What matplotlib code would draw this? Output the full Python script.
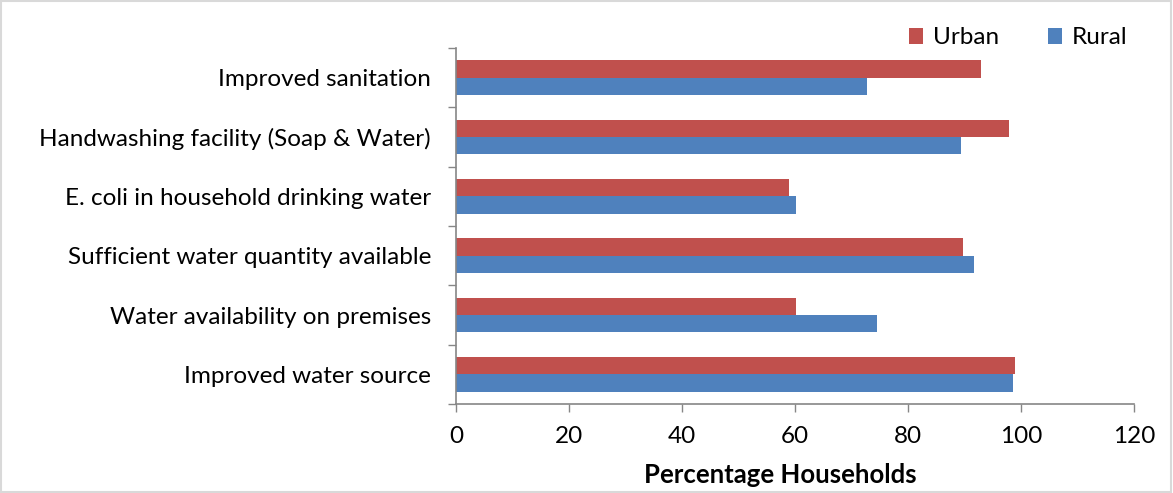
import matplotlib
matplotlib.use("Agg")
import matplotlib.pyplot as plt
import numpy as np

# categories from bottom to top
categories = ["Improved water source",
              "Water availability on premises",
              "Sufficient water quantity available",
              "E. coli in household drinking water",
              "Handwashing facility (Soap & Water)",
              "Improved sanitation"]
urban = [98.9, 60.1, 89.7, 58.9, 97.8, 92.9]
rural = [98.5, 74.6, 91.7, 60.1, 89.4, 72.8]

plt.rcParams['font.family'] = ['Lato', 'DejaVu Sans']

fig = plt.figure(figsize=(11.73, 4.93), dpi=100)
ax = fig.add_axes([456/1173, 1 - 404/493, 678/1173, 356/493])

y = np.arange(len(categories))
h = 0.29
ax.barh(y + h/2, urban, height=h, color='#C0504D', label='Urban')
ax.barh(y - h/2, rural, height=h, color='#4F81BD', label='Rural')

ax.set_xlim(0, 120)
ax.set_ylim(-0.5, len(categories) - 0.5)
ax.set_xticks(range(0, 121, 20))
ax.set_yticks(y)
ax.set_yticklabels(categories)
ax.set_yticks(np.arange(-0.5, len(categories)), minor=True)
ax.tick_params(axis='y', which='major', length=0, pad=18, labelsize=17.5)
ax.tick_params(axis='y', which='minor', length=6, color='#868686', width=1)
ax.tick_params(axis='x', length=6, color='#868686', width=1, labelsize=17.5, pad=10)

for s in ['top', 'right']:
    ax.spines[s].set_visible(False)
for s in ['left', 'bottom']:
    ax.spines[s].set_color('#868686')
    ax.spines[s].set_linewidth(1.2)

ax.set_xlabel('Percentage Households', fontsize=18.5, fontweight='bold')
ax.xaxis.set_label_coords(0.479, -0.165)

fig.legend(loc='center', bbox_to_anchor=(1018/1173, 1 - 38/493), ncol=2,
           frameon=False, fontsize=17.5, handlelength=0.6, handleheight=0.6,
           columnspacing=2.0, handletextpad=0.4)

# light frame around chart
fig.patches.append(plt.Rectangle((0.001, 0.002), 0.997, 0.996, transform=fig.transFigure,
                                 fill=False, edgecolor='#D9D9D9', linewidth=1.5))

fig.savefig('out.png', dpi=100)
